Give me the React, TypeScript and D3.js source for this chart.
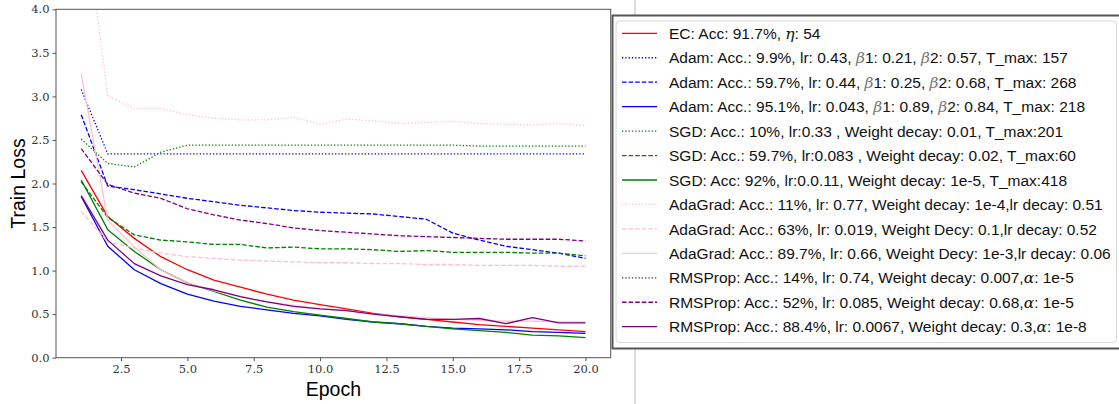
import { useEffect, useRef } from 'react';
import * as d3 from 'd3';

const epochs = [1, 2, 3, 4, 5, 6, 7, 8, 9, 10, 11, 12, 13, 14, 15, 16, 17, 18, 19, 20];

const ecLoss = [2.15, 1.62, 1.37, 1.16, 1.01, 0.89, 0.81, 0.73, 0.66, 0.61, 0.56, 0.51, 0.47, 0.44, 0.41, 0.38, 0.36, 0.34, 0.32, 0.30];
const adamLow = [3.08, 2.34, 2.34, 2.34, 2.34, 2.34, 2.34, 2.34, 2.34, 2.34, 2.34, 2.34, 2.34, 2.34, 2.34, 2.34, 2.34, 2.34, 2.34, 2.34];
const adamMid = [2.79, 1.97, 1.93, 1.88, 1.83, 1.79, 1.75, 1.72, 1.69, 1.67, 1.66, 1.65, 1.62, 1.59, 1.43, 1.35, 1.28, 1.24, 1.20, 1.14];
const adamHigh = [1.85, 1.28, 1.01, 0.85, 0.73, 0.65, 0.59, 0.55, 0.51, 0.48, 0.44, 0.41, 0.39, 0.36, 0.34, 0.33, 0.32, 0.30, 0.29, 0.28];
const sgdLow = [2.51, 2.23, 2.19, 2.36, 2.44, 2.44, 2.44, 2.44, 2.44, 2.44, 2.44, 2.44, 2.44, 2.44, 2.44, 2.43, 2.43, 2.43, 2.43, 2.43];
const sgdMid = [2.02, 1.61, 1.41, 1.35, 1.33, 1.30, 1.30, 1.26, 1.27, 1.25, 1.25, 1.24, 1.22, 1.23, 1.21, 1.21, 1.21, 1.20, 1.20, 1.17];
const sgdHigh = [2.04, 1.47, 1.22, 1.01, 0.86, 0.76, 0.66, 0.58, 0.53, 0.49, 0.45, 0.41, 0.39, 0.36, 0.33, 0.31, 0.29, 0.26, 0.25, 0.23];
const adagradLow = [5.39, 3.01, 2.86, 2.86, 2.79, 2.75, 2.73, 2.73, 2.76, 2.68, 2.74, 2.72, 2.69, 2.70, 2.71, 2.69, 2.68, 2.67, 2.69, 2.66];
const adagradMid = [1.68, 1.33, 1.26, 1.20, 1.16, 1.14, 1.12, 1.11, 1.10, 1.09, 1.09, 1.08, 1.08, 1.07, 1.07, 1.06, 1.06, 1.06, 1.05, 1.05];
const adagradHigh = [3.26, 1.58, 1.27, 1.01, 0.86, 0.77, 0.70, 0.64, 0.60, 0.56, 0.54, 0.50, 0.48, 0.46, 0.44, 0.43, 0.42, 0.42, 0.41, 0.41];
const rmspropLow: number[] = []; // not visible in the plot area
const rmspropMid = [2.40, 1.99, 1.89, 1.83, 1.71, 1.64, 1.58, 1.54, 1.49, 1.46, 1.44, 1.42, 1.40, 1.39, 1.38, 1.37, 1.36, 1.36, 1.36, 1.34];
const rmspropHigh = [1.86, 1.35, 1.08, 0.94, 0.84, 0.78, 0.70, 0.64, 0.59, 0.56, 0.54, 0.50, 0.47, 0.44, 0.44, 0.45, 0.39, 0.46, 0.40, 0.40];

const legendLabels = [
  'EC: Acc: 91.7%, η: 54',
  'Adam: Acc.: 9.9%, lr: 0.43, β1: 0.21, β2: 0.57, T_max: 157',
  'Adam: Acc.: 59.7%, lr: 0.44, β1: 0.25, β2: 0.68, T_max: 268',
  'Adam: Acc.: 95.1%, lr: 0.043, β1: 0.89, β2: 0.84, T_max: 218',
  'SGD: Acc.: 10%, lr:0.33 , Weight decay: 0.01, T_max:201',
  'SGD: Acc.: 59.7%, lr:0.083 , Weight decay: 0.02, T_max:60',
  'SGD: Acc: 92%, lr:0.0.11, Weight decay: 1e-5, T_max:418',
  'AdaGrad: Acc.: 11%, lr: 0.77, Weight decay: 1e-4,lr decay: 0.51',
  'AdaGrad: Acc.: 63%, lr: 0.019, Weight Decy: 0.1,lr decay: 0.52',
  'AdaGrad: Acc.: 89.7%, lr: 0.66, Weight Decy: 1e-3,lr decay: 0.06',
  'RMSProp: Acc.: 14%, lr: 0.74, Weight decay: 0.007,α: 1e-5',
  'RMSProp: Acc.: 52%, lr: 0.085, Weight decay: 0.68,α: 1e-5',
  'RMSProp: Acc.: 88.4%, lr: 0.0067, Weight decay: 0.3,α: 1e-8',
];

const yTicks = [0, 0.5, 1, 1.5, 2, 2.5, 3, 3.5, 4];
const xTicks = [2.5, 5, 7.5, 10, 12.5, 15, 17.5, 20];

const DOT = '1.3,2';
const DASH = '4.6,2';

const series = [
  { values: ecLoss, color: '#ff0000', dash: null },
  { values: adamLow, color: '#0000ff', dash: DOT },
  { values: adamMid, color: '#0000ff', dash: DASH },
  { values: adamHigh, color: '#0000ff', dash: null },
  { values: sgdLow, color: '#008000', dash: DOT },
  { values: sgdMid, color: '#008000', dash: DASH },
  { values: sgdHigh, color: '#008000', dash: null },
  { values: adagradLow, color: '#ffc0cb', dash: DOT },
  { values: adagradMid, color: '#ffc0cb', dash: DASH },
  { values: adagradHigh, color: '#ffc0cb', dash: null },
  { values: rmspropLow, color: '#800080', dash: DOT },
  { values: rmspropMid, color: '#800080', dash: DASH },
  { values: rmspropHigh, color: '#800080', dash: null },
].map((s, i) => ({ ...s, label: legendLabels[i] }));

const W = 1119;
const H = 404;

const App = () => {
  const svgRef = useRef<SVGSVGElement>(null);

  useEffect(() => {
    const left = 56, top = 9.3, right = 610.7, bottom = 357.7;

    const x = d3.scaleLinear().domain([0.05, 20.95]).range([left, right]);
    const y = d3.scaleLinear().domain([0, 4]).range([bottom, top]);

    const svg = d3.select(svgRef.current);
    svg.selectAll('*').remove();

    svg.append('rect').attr('width', W).attr('height', H).attr('fill', 'white');

    svg.append('defs').append('clipPath').attr('id', 'plot-clip')
      .append('rect')
      .attr('x', left).attr('y', top)
      .attr('width', right - left).attr('height', bottom - top);

    const line = d3.line<number>()
      .x((_, i) => x(epochs[i]))
      .y(d => y(d));

    svg.append('g')
      .attr('clip-path', 'url(#plot-clip)')
      .selectAll('path')
      .data(series.filter(s => s.values.length > 0))
      .join('path')
      .attr('d', d => line(d.values))
      .attr('fill', 'none')
      .attr('stroke', d => d.color)
      .attr('stroke-width', 1.3)
      .attr('stroke-dasharray', d => d.dash)
      .attr('stroke-linejoin', 'round');

    // axes
    const axisColor = '#555';
    const xAxis = svg.append('g')
      .attr('transform', `translate(0,${bottom})`)
      .call(d3.axisBottom(x).tickValues(xTicks).tickSize(3.5).tickPadding(4)
        .tickFormat(d3.format('.1f')));
    const yAxis = svg.append('g')
      .attr('transform', `translate(${left},0)`)
      .call(d3.axisLeft(y).tickValues(yTicks).tickSize(3.5).tickPadding(3)
        .tickFormat(d3.format('.1f')));
    [xAxis, yAxis].forEach(a => {
      a.select('.domain').remove();
      a.selectAll('line').attr('stroke', axisColor);
      a.selectAll('text')
        .attr('fill', '#333')
        .attr('font-family', '"DejaVu Serif", serif')
        .attr('font-size', 11.5);
    });

    svg.append('rect')
      .attr('x', left).attr('y', top)
      .attr('width', right - left).attr('height', bottom - top)
      .attr('fill', 'none').attr('stroke', axisColor).attr('stroke-width', 1);

    svg.append('text')
      .attr('x', (left + right) / 2).attr('y', 396)
      .attr('text-anchor', 'middle')
      .attr('font-family', '"Liberation Sans", sans-serif')
      .attr('font-size', 19.5)
      .text('Epoch');

    svg.append('text')
      .attr('transform', `translate(25,${(top + bottom) / 2}) rotate(-90)`)
      .attr('text-anchor', 'middle')
      .attr('font-family', '"Liberation Sans", sans-serif')
      .attr('font-size', 19.5)
      .text('Train Loss');

    // legend panel
    svg.append('line')
      .attr('x1', 635).attr('x2', 635).attr('y1', 0).attr('y2', 15)
      .attr('stroke', '#bbb');
    svg.append('line')
      .attr('x1', 635).attr('x2', 635).attr('y1', 349).attr('y2', H)
      .attr('stroke', '#bbb');
    svg.append('rect')
      .attr('x', 612.5).attr('y', 15.5).attr('width', 520).attr('height', 333)
      .attr('fill', 'white').attr('stroke', '#555').attr('stroke-width', 2);
    svg.append('rect')
      .attr('x', 616).attr('y', 21).attr('width', 500.5).attr('height', 321.5)
      .attr('rx', 4)
      .attr('fill', 'white').attr('stroke', '#d6d6d6').attr('stroke-width', 1);

    const rowY = (i: number) => 33.3 + i * 24.45;
    const rows = svg.append('g')
      .selectAll('g')
      .data(series)
      .join('g')
      .attr('transform', (_, i) => `translate(0,${rowY(i)})`);

    rows.append('line')
      .attr('x1', 622).attr('x2', 657)
      .attr('stroke', d => d.color)
      .attr('stroke-width', 1.3)
      .attr('stroke-dasharray', d => d.dash);

    rows.append('text')
      .attr('x', 669).attr('y', 5.6)
      .attr('font-family', '"Liberation Sans", sans-serif')
      .attr('font-size', 15.5)
      .attr('fill', '#111')
      .each(function (d) {
        const t = d3.select(this);
        d.label.split(/([ηβα])/).filter(p => p !== '').forEach(part => {
          const greek = /^[ηβα]$/.test(part);
          t.append('tspan')
            .attr('font-family', greek ? '"DejaVu Serif", serif' : null)
            .attr('font-style', greek ? 'italic' : null)
            .attr('fill', greek && part === 'β' ? '#777' : null)
            .text(part);
        });
      });
  }, []);

  return (
    <svg ref={svgRef} width={W} height={H}
      style={{ position: 'absolute', left: 0, top: 0, display: 'block' }} />
  );
};

export default App;
